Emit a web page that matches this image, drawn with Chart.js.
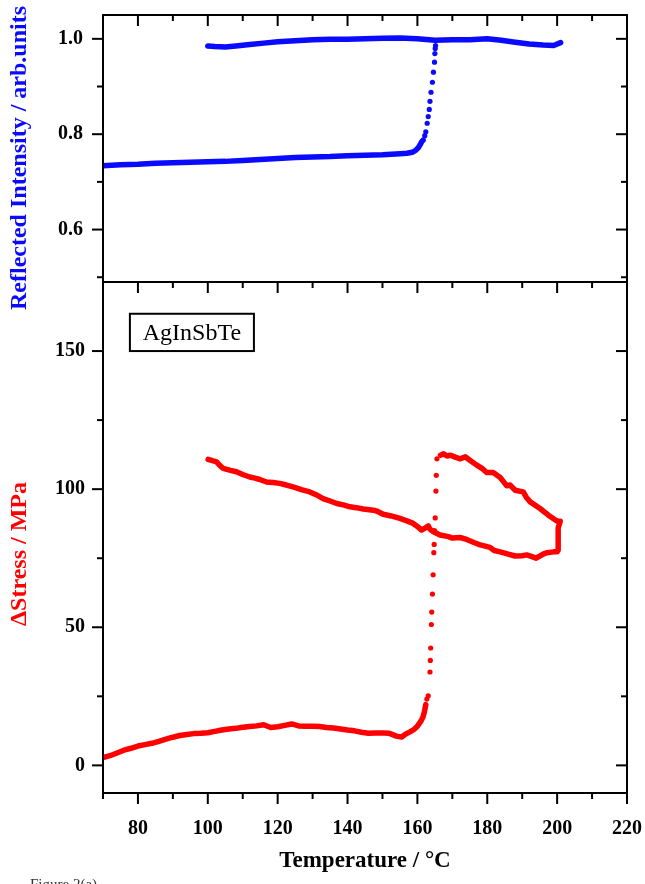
<!DOCTYPE html>
<html>
<head>
<meta charset="utf-8">
<script src="https://cdn.jsdelivr.net/npm/chart.js@4.4.1/dist/chart.umd.min.js"></script>
<style>
html,body{margin:0;padding:0;background:#fff;overflow:hidden;width:645px;height:884px;}
.wrap{position:absolute;left:0;top:0;width:645px;height:884px;}
#fig{position:absolute;left:30px;top:876px;font:15px 'Liberation Serif',serif;color:#333;white-space:nowrap;}
</style>
</head>
<body>
<div class="wrap"><canvas id="topChart" width="645" height="884"></canvas></div>
<div class="wrap"><canvas id="botChart" width="645" height="884"></canvas></div>
<div id="fig">Figure 2(a)</div>
<script>
// ---------- DATA ----------
// Temperature axis
const xTickLabels = [80, 100, 120, 140, 160, 180, 200, 220];
const topTickLabels = [0.6, 0.8, 1.0];
const botTickLabels = [0, 50, 100, 150];

// Reflected intensity, heating branch (low state)
const blueLowT = [70,75,80,85,90,95,100,105,110,115,120,125,130,135,140,145,150,155,157,158.5,159.5,160.3,160.8,161.3];
const blueLowI = [0.734,0.736,0.737,0.739,0.740,0.741,0.742,0.743,0.745,0.747,0.749,0.751,0.752,0.753,0.755,0.756,0.757,0.759,0.760,0.762,0.766,0.772,0.778,0.785];
// Reflected intensity, transition dots
const blueJumpT = [161.7,162.1,162.4,162.8,163.1,163.4,163.6,163.9,164.3,164.6,164.9,165.0,165.1,165.2];
const blueJumpI = [0.788,0.797,0.805,0.823,0.837,0.852,0.869,0.888,0.909,0.930,0.951,0.969,0.980,0.986];
// Reflected intensity, high state (heating to 200 and cooling back to 100)
const blueHighT = [100,102,105,108,112,116,120,125,130,135,140,145,150,155,160,165,170,175,180,184,188,192,196,199,201];
const blueHighI = [0.985,0.984,0.983,0.985,0.988,0.991,0.994,0.996,0.998,0.999,0.999,1.000,1.001,1.002,1.000,0.997,0.998,0.998,1.000,0.997,0.993,0.989,0.987,0.986,0.992];

// Delta stress, heating branch (low state)
const redLowT = [70,72,74,76,78,80,82,84,86,88,90,92,94,96,98,100,102,104,106,108,110,112,114,116,118,120,122,124,126,128,130,132,134,136,138,140,142,144,146,148,150,152,154,155.5,156.5,158,159,160,161,161.6,162,162.4];
const redLowS = [2.8,3.5,4.5,5.5,6.2,7.0,7.5,8.0,8.7,9.5,10.2,10.8,11.2,11.5,11.6,11.8,12.3,12.8,13.2,13.4,13.8,14.1,14.3,14.7,13.7,14.0,14.5,15.0,14.3,14.2,14.2,14.1,13.7,13.5,13.2,12.8,12.5,12.0,11.6,11.7,11.7,11.6,10.6,10.3,11.2,12.2,13.0,14.2,16.0,17.5,19.3,22.0];
// Delta stress, transition dots
const redJumpT = [162.7,163.1,163.6,163.7,163.8,164.0,164.1,164.3,164.5,164.7,164.8,164.9,165.1,165.3,165.4,165.6];
const redJumpS = [24.0,25.2,33.8,38.0,42.5,51.0,55.5,62.0,69.0,77.0,80.0,85.0,89.6,99.3,105.0,111.0];
// Delta stress, high state to 200, hold at 200, then cooling to 100
const redLoopT = [166.6,167.5,168.5,169.5,171,172.3,173.7,175,177,178.5,179.9,181.7,183.7,185.6,186.5,188,190.3,191.2,192.3,195.1,197.5,199.3,200.3,200.9,200.3,200.3,200.3,200.0,199,197,196,194,193,191.3,190,188,186,183.7,182,180.8,178,176,174.1,172.2,170,168.9,166.5,164.6,163.6,163.1,162.3,161.2,160,158.8,157,155,152.5,150.2,148.5,147.4,144.5,142.5,140.7,138.8,136.9,135,133,131,129.2,126.8,124.4,122.5,120.6,118.7,116.8,114.9,113.5,112,110,108.2,106.5,104.4,103.5,102.5,101.3,100.1];
const redLoopS = [112.3,112.8,112.0,112.3,111.5,111.0,111.7,110.5,108.7,107.5,106.0,106.0,104.2,101.2,101.5,99.6,99.0,97.0,95.4,93.0,90.6,89.0,88.3,88.4,86.0,82.0,78.0,77.3,77.3,77.0,76.5,75.0,75.5,76.2,75.9,75.8,76.5,77.3,77.8,78.9,79.8,80.8,81.8,82.5,82.3,82.8,83.4,84.6,85.5,86.7,86.0,85.2,86.5,87.6,88.5,89.4,90.3,90.9,92.0,92.4,92.8,93.3,93.6,94.3,94.8,95.7,96.6,98.0,99.0,99.8,100.8,101.5,102.1,102.4,102.6,103.5,104.0,104.4,105.3,106.3,106.8,107.5,108.5,109.9,110.3,110.8];

// ---------- helpers ----------
const pts = (xs, ys) => xs.map((x, i) => ({x: x, y: ys[i]}));
const BLUE = '#0a0aff';
const RED = '#ff0000';
const SERIF = "'Liberation Serif', 'Times New Roman', serif";
const noPad = s => { s.paddingTop = 0; s.paddingBottom = 0; s.paddingLeft = 0; s.paddingRight = 0; };

const frameTicks = {
  id: 'frameTicks',
  afterDraw(chart, args, o) {
    const {ctx, chartArea: a} = chart;
    const xs = chart.scales.x, ys = chart.scales.y;
    ctx.save();
    ctx.strokeStyle = '#000';
    ctx.lineWidth = 2;
    ctx.lineCap = 'butt';
    const line = (x1, y1, x2, y2) => { ctx.beginPath(); ctx.moveTo(x1, y1); ctx.lineTo(x2, y2); ctx.stroke(); };
    ctx.strokeRect(a.left, a.top, a.right - a.left, a.bottom - a.top);
    // y ticks: outward on left, inward on right
    o.yTicks.forEach(([v, len]) => {
      const py = ys.getPixelForValue(v);
      line(a.left - len, py, a.left, py);
      line(a.right - len, py, a.right, py);
    });
    // x ticks
    for (let t = 70; t <= 220; t += 10) {
      const px = xs.getPixelForValue(t);
      const len = (t % 20 === 0) ? 11 : 6;
      o.xEdges.forEach(([edge, dir]) => {
        const ey = edge === 'top' ? a.top : a.bottom;
        line(px, ey, px, ey + dir * len);
      });
    }
    // rotated axis title
    ctx.fillStyle = o.titleColor;
    ctx.font = 'bold 24px ' + SERIF;
    ctx.textAlign = 'center';
    ctx.textBaseline = 'middle';
    ctx.translate(o.titleX, o.titleY);
    ctx.rotate(-Math.PI / 2);
    ctx.fillText(o.title, 0, 0);
    ctx.restore();
  }
};

// ---------- TOP CHART: reflected intensity ----------
new Chart(document.getElementById('topChart'), {
  type: 'scatter',
  data: {
    datasets: [
      {data: pts(blueLowT, blueLowI), showLine: true, borderColor: BLUE, backgroundColor: BLUE, borderWidth: 5.5, pointRadius: 0, borderCapStyle: 'round', borderJoinStyle: 'round'},
      {data: pts(blueJumpT, blueJumpI), showLine: false, backgroundColor: BLUE, borderWidth: 0, pointRadius: 2.6},
      {data: pts(blueHighT, blueHighI), showLine: true, borderColor: BLUE, backgroundColor: BLUE, borderWidth: 5.5, pointRadius: 0, borderCapStyle: 'round', borderJoinStyle: 'round'}
    ]
  },
  options: {
    responsive: false, animation: false, devicePixelRatio: 1,
    layout: {padding: {top: 15, right: 18, bottom: 602, left: 0}},
    plugins: {
      legend: {display: false}, tooltip: {enabled: false},
      frameTicks: {
        yTicks: [[0.5, 6], [0.6, 11], [0.7, 6], [0.8, 11], [0.9, 6], [1.0, 11]],
        xEdges: [['top', 1], ['bottom', 1]],
        title: 'Reflected Intensity / arb.units', titleColor: BLUE, titleX: 20, titleY: 158
      }
    },
    scales: {
      x: {type: 'linear', min: 70, max: 220, display: false, afterFit: noPad},
      y: {
        type: 'linear', min: 0.49, max: 1.05,
        afterFit(s) { s.width = 103; noPad(s); },
        afterBuildTicks(s) { s.ticks = topTickLabels.map(v => ({value: v})); },
        grid: {display: false, drawTicks: false}, border: {display: false},
        ticks: {padding: 20, color: '#000', font: {family: SERIF, weight: 'bold', size: 20}, callback: v => Number(v).toFixed(1)}
      }
    }
  },
  plugins: [frameTicks]
});

// ---------- BOTTOM CHART: delta stress ----------
new Chart(document.getElementById('botChart'), {
  type: 'scatter',
  data: {
    datasets: [
      {data: pts(redLowT, redLowS), showLine: true, borderColor: RED, backgroundColor: RED, borderWidth: 5.5, pointRadius: 0, borderCapStyle: 'round', borderJoinStyle: 'round'},
      {data: pts(redJumpT, redJumpS), showLine: false, backgroundColor: RED, borderWidth: 0, pointRadius: 2.6},
      {data: pts(redLoopT, redLoopS), showLine: true, borderColor: RED, backgroundColor: RED, borderWidth: 5.5, pointRadius: 0, borderCapStyle: 'round', borderJoinStyle: 'round'}
    ]
  },
  options: {
    responsive: false, animation: false, devicePixelRatio: 1,
    layout: {padding: {top: 282, right: 18, bottom: 0, left: 0}},
    plugins: {
      legend: {display: false}, tooltip: {enabled: false},
      frameTicks: {
        yTicks: [[0, 11], [25, 6], [50, 11], [75, 6], [100, 11], [125, 6], [150, 11]],
        xEdges: [['bottom', 1]],
        title: '\u0394Stress / MPa', titleColor: RED, titleX: 20, titleY: 554
      }
    },
    scales: {
      x: {
        type: 'linear', min: 70, max: 220,
        afterFit(s) { s.height = 91; noPad(s); },
        afterBuildTicks(s) { s.ticks = xTickLabels.map(v => ({value: v})); },
        grid: {display: false, drawTicks: false}, border: {display: false},
        ticks: {padding: 24, color: '#000', maxRotation: 0, font: {family: SERIF, weight: 'bold', size: 20}},
        title: {display: true, text: 'Temperature / \u00B0C', color: '#000', padding: {top: 0, bottom: 9}, font: {family: SERIF, weight: 'bold', size: 23}}
      },
      y: {
        type: 'linear', min: -10, max: 175,
        afterFit(s) { s.width = 103; noPad(s); },
        afterBuildTicks(s) { s.ticks = botTickLabels.map(v => ({value: v})); },
        grid: {display: false, drawTicks: false}, border: {display: false},
        ticks: {padding: 18, color: '#000', font: {family: SERIF, weight: 'bold', size: 20}}
      }
    }
  },
  plugins: [frameTicks, {
    id: 'sampleBox',
    afterDraw(chart) {
      const {ctx} = chart;
      const xs = chart.scales.x, ys = chart.scales.y;
      // label box anchored in data coordinates
      const x1 = xs.getPixelForValue(77.7), x2 = xs.getPixelForValue(113.2);
      const y1 = ys.getPixelForValue(163.5), y2 = ys.getPixelForValue(150);
      ctx.save();
      ctx.strokeStyle = '#000'; ctx.lineWidth = 2;
      ctx.fillStyle = '#fff';
      ctx.fillRect(x1, y1, x2 - x1, y2 - y1);
      ctx.strokeRect(x1, y1, x2 - x1, y2 - y1);
      ctx.fillStyle = '#000';
      ctx.font = '24px ' + SERIF;
      ctx.textAlign = 'center'; ctx.textBaseline = 'middle';
      ctx.fillText('AgInSbTe', (x1 + x2) / 2, (y1 + y2) / 2 + 1);
      ctx.restore();
    }
  }]
});
</script>
</body>
</html>
